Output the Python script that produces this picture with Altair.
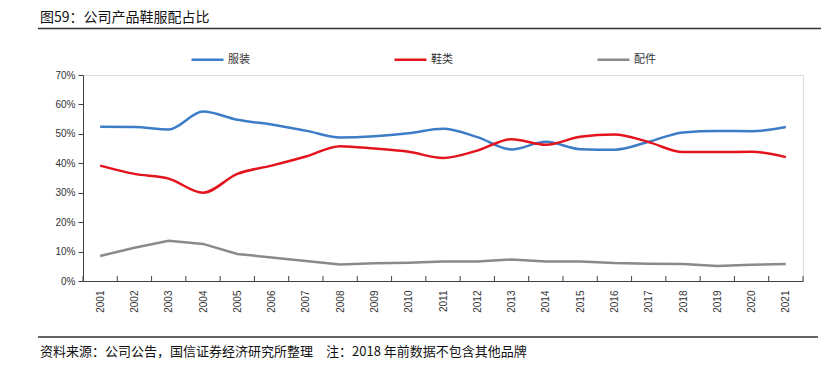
import altair as alt
import pandas as pd

title_text = "图59：公司产品鞋服配占比"
footer_text = "资料来源：公司公告，国信证券经济研究所整理\u3000注：2018\u00a0年前数据不包含其他品牌"

years = list(range(2001, 2022))
series_names = ["服装", "鞋类", "配件"]
series_colors = ["#3D7CC6", "#E3141D", "#8A8A8A"]

apparel = [52.4, 52.3, 51.5, 57.6, 54.8, 53.2, 51.1, 48.8, 49.2, 50.2, 51.7,
           48.9, 44.7, 47.3, 44.8, 44.6, 47.3, 50.5, 51.0, 50.9, 52.3]
shoes = [39.2, 36.4, 34.8, 30.0, 36.4, 39.2, 42.3, 45.8, 45.0, 43.9, 41.8,
         44.3, 48.2, 46.3, 49.0, 49.8, 47.2, 43.8, 43.8, 43.9, 42.1]
accessories = [8.5, 11.3, 13.7, 12.6, 9.2, 8.0, 6.8, 5.6, 6.0, 6.2, 6.6,
               6.6, 7.3, 6.6, 6.6, 6.1, 5.9, 5.8, 5.1, 5.5, 5.8]

y_ticks = [0, 0.1, 0.2, 0.3, 0.4, 0.5, 0.6, 0.7]

rows = []
for name, vals in zip(series_names, [apparel, shoes, accessories]):
    for yr, v in zip(years, vals):
        rows.append({"series": name, "year": yr, "value": v / 100.0})
df = pd.DataFrame(rows)

boundaries = [y - 0.5 for y in years] + [years[-1] + 0.5]
tick_df = pd.DataFrame({"b": boundaries})

W, H = 720, 206
FONT_CJK = "Noto Sans CJK SC"
FONT_NUM = "Liberation Sans"

x_scale = alt.Scale(domain=[years[0] - 0.5, years[-1] + 0.5], nice=False, zero=False)
y_scale = alt.Scale(domain=[0, 0.7], nice=False)
color_scale = alt.Scale(domain=series_names, range=series_colors)

x_axis = alt.Axis(values=years, format="d", labelAngle=-90, ticks=False,
                  labelOverlap=False, labelFlush=False,
                  labelPadding=9, labelFontSize=10, labelFont=FONT_NUM,
                  labelColor="#333333", domainColor="#404040", domainWidth=1,
                  grid=False, title=None)
x_enc = alt.X("year:Q", scale=x_scale, axis=x_axis)
y_enc = alt.Y("value:Q", scale=y_scale,
              axis=alt.Axis(values=y_ticks, format=".0%", tickSize=5, tickColor="#404040",
                            labelOverlap=False,
                            labelPadding=3, labelFontSize=10, labelFont=FONT_NUM,
                            labelColor="#333333", domainColor="#404040", domainWidth=1,
                            grid=False, title=None))
color_enc = alt.Color("series:N", scale=color_scale, sort=series_names,
                      legend=alt.Legend(title=None, orient="none", direction="horizontal",
                                        legendX=107, legendY=-33, symbolType="stroke",
                                        symbolSize=1024, symbolStrokeWidth=2.5,
                                        labelFont=FONT_CJK, labelFontSize=11,
                                        labelColor="#333333", labelOffset=3,
                                        columnPadding=139, padding=0))

base = alt.Chart(df)
smooth = base.transform_filter(
    alt.FieldOneOfPredicate(field="series", oneOf=series_names[:2])
).mark_line(interpolate="monotone", strokeWidth=2.5).encode(
    x=x_enc, y=y_enc, color=color_enc)
straight = base.transform_filter(
    alt.FieldEqualPredicate(field="series", equal=series_names[2])
).mark_line(strokeWidth=2.5).encode(x=x_enc, y=y_enc, color=color_enc)

ticks = alt.Chart(tick_df).mark_rule(color="#404040", strokeWidth=1).encode(
    x=alt.X("b:Q", scale=x_scale, axis=x_axis), y=alt.value(H - 5), y2=alt.value(H))

title_df = pd.DataFrame({"t": [title_text]})
footer_df = pd.DataFrame({"t": [footer_text]})

title_mark = alt.Chart(title_df).mark_text(
    align="left", baseline="middle", font=FONT_CJK, fontSize=14, color="#111111"
).encode(text="t:N", x=alt.value(-43), y=alt.value(-57))
title_line = alt.Chart(title_df).mark_rule(color="#333333", strokeWidth=1.5).encode(
    x=alt.value(-45), x2=alt.value(738), y=alt.value(-46.5))
footer_line = alt.Chart(footer_df).mark_rule(color="#333333", strokeWidth=1.5).encode(
    x=alt.value(-45), x2=alt.value(735), y=alt.value(262))
footer_mark = alt.Chart(footer_df).mark_text(
    align="left", baseline="middle", font=FONT_CJK, fontSize=13, color="#111111"
).encode(text="t:N", x=alt.value(-43), y=alt.value(277))

chart = alt.layer(smooth, straight, ticks, title_mark, title_line, footer_line, footer_mark).properties(
    width=W, height=H,
    autosize=alt.AutoSizeParams(type="none"),
    padding={"left": 75, "top": 67, "right": 28, "bottom": 78},
).configure_view(stroke=None).configure(background="white")

chart.save("out.html", embed_options={"renderer": "svg", "actions": False})
